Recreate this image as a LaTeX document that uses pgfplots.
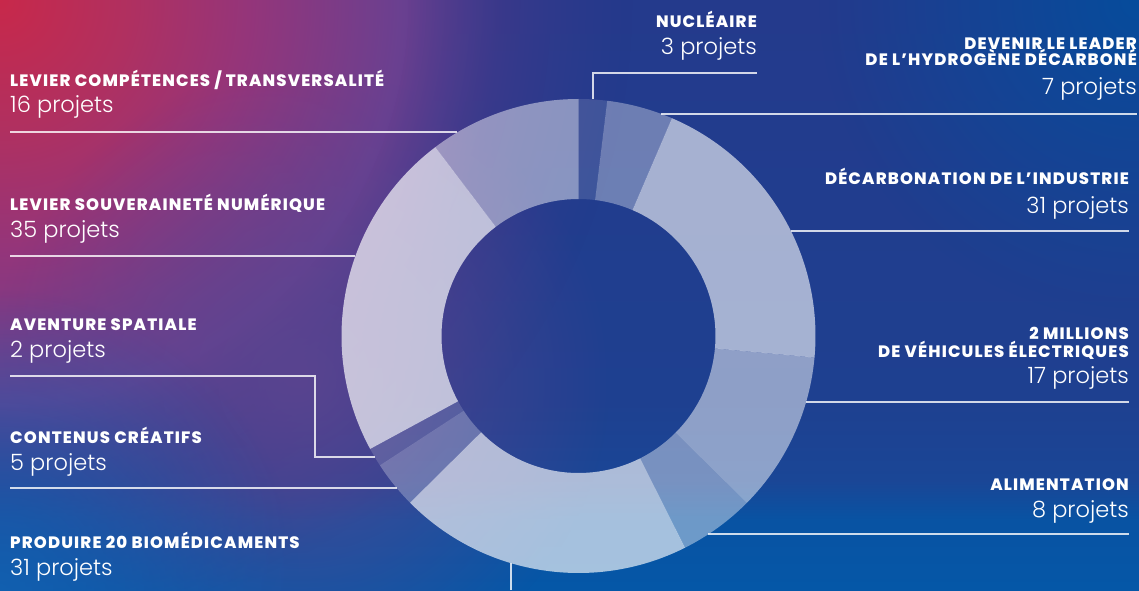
\documentclass[border=0pt]{standalone}
\usepackage{fontspec}
\setmainfont{Poppins}
\newfontfamily\bfl{Poppins ExtraBold}[LetterSpace=7]
\newfontfamily\ltf{Poppins Light}
\usepackage{pgfplots}
\pgfplotsset{compat=1.18}
\usepackage{pgfplotstable}
\usetikzlibrary{calc,fadings}

\definecolor{bgT}{HTML}{243A8C}
\definecolor{bgM}{HTML}{1E4090}
\definecolor{bgM2}{HTML}{1A4696}
\definecolor{bgB2}{HTML}{0853A3}
\definecolor{bgB}{HTML}{0557A7}
\definecolor{rA}{HTML}{C8284A}
\definecolor{rB}{HTML}{B03060}
\definecolor{rC}{HTML}{94357A}
\definecolor{rD}{HTML}{6A4090}
\definecolor{rE}{HTML}{48388A}
\definecolor{rF}{HTML}{2C3A8C}
\definecolor{trc}{HTML}{064C9C}
\definecolor{blc}{HTML}{1262B2}
\definecolor{pblob}{HTML}{5C4590}

\pgfdeclareverticalshading{bgv}{100bp}{color(0bp)=(bgB); color(25bp)=(bgB); color(30.9bp)=(bgB2); color(34.3bp)=(bgM2); color(41bp)=(bgM); color(75bp)=(bgT); color(100bp)=(bgT)}
\pgfdeclareradialshading{bgr}{\pgfpointorigin}{color(0bp)=(rA); color(4.6bp)=(rB); color(8.9bp)=(rC); color(14.3bp)=(rD); color(17.9bp)=(rE); color(25bp)=(rF); color(50bp)=(rF)}
\pgfdeclareradialshading{bgfshade}{\pgfpointorigin}{color(0bp)=(white); color(14.5bp)=(white); color(22.5bp)=(black); color(50bp)=(black)}
\pgfdeclarefading{bgf}{\pgfuseshading{bgfshade}}
\tikzfading[name=softc, inner color=transparent!0, outer color=transparent!100]

\pgfplotstableread{
name value op
Nucleaire 3 0.13
Hydrogene 7 0.34
Decarbonation 31 0.60
Vehicules 17 0.50
Alimentation 8 0.41
Biomedicaments 31 0.64
Contenus 5 0.27
Spatiale 2 0.15
Numerique 35 0.68
Competences 16 0.46
}\donut

\tikzset{
  cat/.style={text=white, inner sep=0pt, font=\bfl\fontsize{16.5}{19}\selectfont},
  num/.style={text=white, inner sep=0pt, font=\ltf\fontsize{22.5}{26}\selectfont},
  lead/.style={draw=white, draw opacity=0.8, line width=1.2pt},
}
\def\sS#1{\csname sliceS#1\endcsname}
\def\sE#1{\csname sliceE#1\endcsname}
\def\sO#1{\csname sliceO#1\endcsname}

\begin{document}
\begin{tikzpicture}
\pgfplotstablegetrowsof{\donut}
\pgfmathtruncatemacro\nlast{\pgfplotsretval-1}
\gdef\tot{0}
\foreach \i in {0,...,\nlast}{%
  \pgfplotstablegetelem{\i}{value}\of\donut
  \pgfmathsetmacro\tmpv{\tot+\pgfplotsretval}%
  \xdef\tot{\tmpv}%
}
\gdef\cum{0}
\foreach \i in {0,...,\nlast}{%
  \pgfplotstablegetelem{\i}{value}\of\donut
  \let\curval=\pgfplotsretval
  \pgfmathsetmacro\aS{90-360*(\cum/\tot)}%
  \pgfmathsetmacro\nc{\cum+\curval}%
  \xdef\cum{\nc}%
  \pgfmathsetmacro\aE{90-360*(\cum/\tot)}%
  \pgfplotstablegetelem{\i}{op}\of\donut
  \expandafter\xdef\csname sliceS\i\endcsname{\aS}%
  \expandafter\xdef\csname sliceE\i\endcsname{\aE}%
  \expandafter\xdef\csname sliceO\i\endcsname{\pgfplotsretval}%
}
\begin{axis}[name=ax, x=1pt, y=1pt, xmin=0, xmax=1139, ymin=0, ymax=590,
  hide axis, scale only axis, clip=false]
% background
\shade[shading=bgv] (axis cs:0,0) rectangle (axis cs:1139,590);
\begin{scope}
\clip (axis cs:0,0) rectangle (axis cs:1139,590);
\shade[shading=bgr, path fading=bgf] (axis cs:0,590) circle[radius=700pt];
\fill[pblob, fill opacity=0.9, path fading=softc] (axis cs:300,210) circle[radius=310pt];
\fill[blc, fill opacity=0.85, path fading=softc] (axis cs:0,0) circle[radius=300pt];
\fill[trc, path fading=softc] (axis cs:1139,590) circle[radius=320pt];
\end{scope}
% donut slices
\pgfplotsinvokeforeach{0,...,9}{
  \fill[white, fill opacity=\sO{#1}]
    ($(axis cs:578.5,254)+(\sS{#1}:237pt)$)
    arc[start angle=\sS{#1}, end angle=\sE{#1}, radius=237pt]
    -- ($(axis cs:578.5,254)+(\sE{#1}:137pt)$)
    arc[start angle=\sE{#1}, end angle=\sS{#1}, radius=137pt] -- cycle;
}
% leader lines
\draw[lead] (axis cs:10,458) -- (axis cs:457,458);
\draw[lead] (axis cs:10,334) -- (axis cs:355,334);
\draw[lead] (axis cs:10,214) -- (axis cs:315,214) -- (axis cs:315,133) -- (axis cs:375,133);
\draw[lead] (axis cs:10,102) -- (axis cs:397,102);
\draw[lead] (axis cs:511,27) -- (axis cs:511,0);
\draw[lead] (axis cs:757,517) -- (axis cs:593,517) -- (axis cs:593,490.5);
\draw[lead] (axis cs:661,476) -- (axis cs:1137,476);
\draw[lead] (axis cs:791,359) -- (axis cs:1129,359);
\draw[lead] (axis cs:806,188) -- (axis cs:1129,188);
\draw[lead] (axis cs:708,56) -- (axis cs:1129,56);
% left labels
\node[cat, anchor=base west] at (axis cs:10,503) {LEVIER COMPÉTENCES / TRANSVERSALITÉ};
\node[num, anchor=base west] at (axis cs:10,477) {16 projets};
\node[cat, anchor=base west] at (axis cs:10,380) {LEVIER SOUVERAINETÉ NUMÉRIQUE};
\node[num, anchor=base west] at (axis cs:10,353) {35 projets};
\node[cat, anchor=base west] at (axis cs:10,260) {AVENTURE SPATIALE};
\node[num, anchor=base west] at (axis cs:10,233) {2 projets};
\node[cat, anchor=base west] at (axis cs:10,147) {CONTENUS CRÉATIFS};
\node[num, anchor=base west] at (axis cs:10,120) {5 projets};
\node[cat, anchor=base west] at (axis cs:10,42) {PRODUIRE 20 BIOMÉDICAMENTS};
\node[num, anchor=base west] at (axis cs:10,15) {31 projets};
% right labels
\node[cat, anchor=base east] at (axis cs:757,562) {NUCLÉAIRE};
\node[num, anchor=base east] at (axis cs:757,535) {3 projets};
\node[cat, anchor=base east] at (axis cs:1137,540) {DEVENIR LE LEADER};
\node[cat, anchor=base east] at (axis cs:1137,524) {DE L’HYDROGÈNE DÉCARBONÉ};
\node[num, anchor=base east] at (axis cs:1137,495) {7 projets};
\node[cat, anchor=base east] at (axis cs:1129,405) {DÉCARBONATION DE L’INDUSTRIE};
\node[num, anchor=base east] at (axis cs:1129,377) {31 projets};
\node[cat, anchor=base east] at (axis cs:1129,251) {2 MILLIONS};
\node[cat, anchor=base east] at (axis cs:1129,233) {DE VÉHICULES ÉLECTRIQUES};
\node[num, anchor=base east] at (axis cs:1129,207) {17 projets};
\node[cat, anchor=base east] at (axis cs:1129,100) {ALIMENTATION};
\node[num, anchor=base east] at (axis cs:1129,73) {8 projets};
\end{axis}
\pgfresetboundingbox
\path[use as bounding box] (ax.south west) rectangle (ax.north east);
\end{tikzpicture}
\end{document}
